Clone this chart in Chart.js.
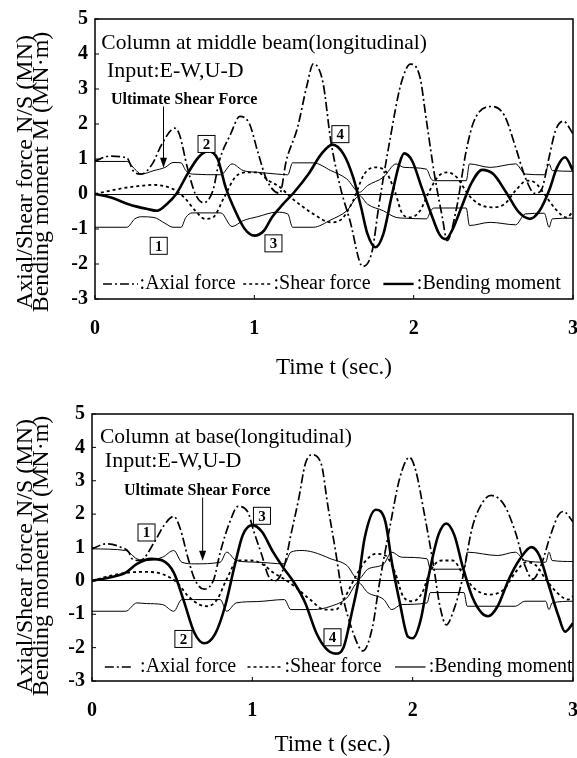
<!DOCTYPE html>
<html lang="en">
<head>
  <meta charset="UTF-8" />
  <title>Column forces</title>
  <style>
    body { margin: 0; background: #fff; }
    .wrap { position: relative; width: 577px; height: 758px; }
    canvas { position: absolute; left: 0; }
    #topChart { top: 0; }
    #baseChart { top: 395px; }
  </style>
</head>
<body>
  <div class="wrap">
    <canvas id="topChart" width="577" height="395"></canvas>
    <canvas id="baseChart" width="577" height="363"></canvas>
  </div>

  <script src="https://cdn.jsdelivr.net/npm/chart.js"></script>
<script>
  // axis ticks
  const xTicks = [0, 1, 2, 3];
  const yTicks = [-3, -2, -1, 0, 1, 2, 3, 4, 5];

  // column at middle beam
  const topAxialT = [0, 0.09, 0.2, 0.24, 0.29, 0.36, 0.42, 0.5, 0.53, 0.58, 0.63, 0.68, 0.74, 0.78, 0.85, 0.91, 0.97, 1.02, 1.08, 1.16, 1.2, 1.27, 1.33, 1.37, 1.43, 1.48, 1.54, 1.6, 1.68, 1.74, 1.78, 1.85, 1.92, 1.98, 2.04, 2.08, 2.13, 2.18, 2.21, 2.27, 2.33, 2.38, 2.49, 2.57, 2.64, 2.7, 2.76, 2.8, 2.85, 2.89, 2.94, 3.0];
  const topAxialV = [0.94, 1.08, 1.03, 0.66, 0.57, 0.86, 1.43, 1.88, 1.7, 0.75, 0.0, -0.25, 0.1, 0.94, 1.7, 2.22, 2.0, 1.23, 0.38, 0.02, 0.94, 1.88, 3.1, 3.72, 3.2, 1.52, 0.19, -0.76, -2.07, -1.62, -0.38, 1.52, 3.14, 3.71, 3.33, 2.1, 0.57, -0.67, -1.33, -0.38, 1.24, 2.1, 2.5, 2.24, 1.33, 0.48, 0.02, 0.1, 1.05, 1.81, 2.08, 1.72];
  const topShearT = [0, 0.1, 0.21, 0.37, 0.49, 0.56, 0.63, 0.69, 0.74, 0.81, 0.88, 0.95, 1.02, 1.09, 1.16, 1.23, 1.3, 1.37, 1.48, 1.55, 1.62, 1.69, 1.76, 1.82, 1.88, 1.93, 1.98, 2.04, 2.09, 2.15, 2.21, 2.27, 2.34, 2.41, 2.49, 2.57, 2.64, 2.71, 2.76, 2.82, 2.89, 2.96, 3.0];
  const topShearV = [0, 0.1, 0.19, 0.26, 0.14, -0.1, -0.48, -0.71, -0.67, -0.1, 0.48, 0.62, 0.62, 0.38, 0.2, -0.1, -0.35, -0.57, -0.81, -0.71, -0.19, 0.57, 0.76, 0.67, 0.1, -0.57, -0.67, -0.48, 0, 0.48, 0.62, 0.48, 0, -0.29, -0.38, -0.29, 0.1, 0.38, 0.33, 0, -0.43, -0.67, -0.5];
  const topBendT = [0, 0.1, 0.21, 0.33, 0.39, 0.45, 0.51, 0.58, 0.65, 0.71, 0.77, 0.82, 0.88, 0.94, 1.0, 1.06, 1.11, 1.18, 1.25, 1.34, 1.42, 1.49, 1.56, 1.62, 1.67, 1.71, 1.76, 1.81, 1.86, 1.91, 1.94, 1.99, 2.05, 2.11, 2.16, 2.2, 2.24, 2.3, 2.36, 2.43, 2.5, 2.58, 2.66, 2.73, 2.79, 2.85, 2.9, 2.95, 3.0];
  const topBendV = [0, -0.1, -0.29, -0.43, -0.48, -0.29, 0, 0.57, 1.05, 1.22, 1.0, 0.19, -0.48, -1.0, -1.19, -1.05, -0.67, -0.29, 0.05, 0.57, 1.14, 1.41, 1.14, 0.48, -0.38, -1.14, -1.52, -1.14, -0.1, 0.86, 1.16, 0.95, 0.19, -0.57, -1.14, -1.29, -1.05, -0.38, 0.29, 0.69, 0.57, 0.05, -0.52, -0.71, -0.48, 0.1, 0.76, 1.05, 0.67];
  const topEnvT = [0, 0.2, 0.25, 0.29, 0.37, 0.44, 0.49, 0.54, 0.57, 0.61, 0.79, 0.86, 0.93, 1.02, 1.14, 1.21, 1.24, 1.37, 1.48, 1.58, 1.66, 1.71, 1.81, 1.89, 1.94, 2.08, 2.11, 2.13, 2.33, 2.35, 2.48, 2.64, 2.7, 2.82, 2.85, 2.87, 3.0];
  const topUpperV = [0.93, 0.93, 0.71, 0.57, 0.67, 0.76, 0.9, 0.89, 0.67, 0.57, 0.55, 0.86, 0.67, 0.62, 0.57, 0.55, 0.89, 0.89, 0.67, 0.43, 0.05, 0.24, 0.48, 0.86, 0.76, 0.71, 0.43, 0.38, 0.38, 0.86, 0.76, 0.86, 0.57, 0.55, 0.86, 0.67, 0.65];
  const topLowerV = [-0.95, -0.95, -0.71, -0.65, -0.67, -0.84, -0.95, -0.95, -0.67, -0.54, -0.54, -0.93, -0.76, -0.65, -0.52, -0.57, -0.95, -0.95, -0.74, -0.48, -0.05, -0.29, -0.48, -0.67, -0.69, -0.71, -0.46, -0.4, -0.4, -0.9, -0.81, -0.88, -0.57, -0.55, -0.95, -0.71, -0.69];

  // column at base
  const baseAxialT = [0, 0.09, 0.18, 0.23, 0.25, 0.3, 0.39, 0.45, 0.51, 0.55, 0.6, 0.64, 0.7, 0.76, 0.8, 0.86, 0.91, 0.97, 1.01, 1.06, 1.1, 1.14, 1.2, 1.24, 1.29, 1.33, 1.37, 1.43, 1.47, 1.52, 1.56, 1.63, 1.69, 1.75, 1.79, 1.86, 1.92, 1.98, 2.02, 2.07, 2.13, 2.17, 2.21, 2.25, 2.31, 2.37, 2.44, 2.49, 2.57, 2.64, 2.7, 2.75, 2.8, 2.86, 2.91, 2.94, 3.0];
  const baseAxialV = [0.96, 1.11, 1.01, 0.86, 0.66, 0.61, 1.17, 1.67, 1.93, 1.57, 0.66, 0.05, -0.25, 0.05, 0.86, 1.77, 2.23, 2.08, 1.47, 0.76, 0.15, 0.0, 0.46, 1.37, 2.48, 3.5, 3.78, 3.5, 2.28, 0.86, -0.35, -1.57, -2.1, -1.37, -0.15, 1.67, 3.09, 3.7, 3.29, 2.08, 0.46, -0.76, -1.32, -0.96, 0.05, 1.57, 2.38, 2.56, 2.28, 1.47, 0.46, 0.05, 0.46, 1.37, 1.98, 2.08, 1.77];
  const baseShearT = [0, 0.11, 0.23, 0.34, 0.44, 0.53, 0.6, 0.67, 0.72, 0.78, 0.84, 0.91, 0.99, 1.06, 1.13, 1.2, 1.26, 1.36, 1.45, 1.52, 1.57, 1.63, 1.7, 1.77, 1.83, 1.89, 1.94, 2.0, 2.06, 2.11, 2.18, 2.25, 2.32, 2.39, 2.48, 2.57, 2.64, 2.71, 2.77, 2.83, 2.9, 2.97, 3.0];
  const baseShearV = [0, 0.15, 0.25, 0.27, 0.2, -0.05, -0.46, -0.71, -0.76, -0.56, 0.05, 0.61, 0.61, 0.51, 0.25, 0.05, -0.15, -0.56, -0.86, -0.86, -0.56, 0, 0.56, 0.81, 0.76, 0.25, -0.46, -0.61, -0.35, 0.3, 0.61, 0.61, 0.15, -0.25, -0.41, -0.25, 0.25, 0.56, 0.46, 0.05, -0.35, -0.56, -0.46];
  const baseBendT = [0, 0.11, 0.21, 0.28, 0.37, 0.44, 0.51, 0.57, 0.64, 0.7, 0.77, 0.83, 0.89, 0.94, 1.0, 1.06, 1.13, 1.2, 1.26, 1.33, 1.4, 1.46, 1.52, 1.57, 1.62, 1.66, 1.7, 1.77, 1.83, 1.87, 1.92, 1.97, 2.0, 2.05, 2.1, 2.16, 2.21, 2.26, 2.31, 2.37, 2.43, 2.47, 2.53, 2.6, 2.67, 2.74, 2.79, 2.85, 2.91, 2.95, 3.0];
  const baseBendV = [0, 0.1, 0.25, 0.51, 0.66, 0.61, 0.25, -0.56, -1.57, -1.87, -1.57, -0.76, 0.46, 1.37, 1.67, 1.47, 0.86, 0.35, -0.05, -0.66, -1.57, -2.03, -2.18, -1.98, -0.96, -0.05, 1.27, 2.13, 1.77, 0.56, -0.66, -1.67, -1.72, -1.17, 0.15, 1.37, 1.72, 1.37, 0.46, -0.46, -0.96, -1.06, -0.76, 0.05, 0.66, 1.01, 0.76, -0.15, -1.06, -1.52, -1.27];
  const baseEnvT = [0, 0.21, 0.28, 0.34, 0.44, 0.51, 0.56, 0.64, 0.8, 0.84, 0.9, 1.03, 1.2, 1.24, 1.31, 1.38, 1.49, 1.59, 1.66, 1.72, 1.82, 1.87, 1.93, 2.09, 2.11, 2.32, 2.34, 2.53, 2.64, 2.7, 2.83, 2.85, 2.87, 3.0];
  const baseUpperV = [0.96, 0.91, 0.66, 0.61, 0.71, 0.91, 0.56, 0.51, 0.56, 0.86, 0.61, 0.56, 0.51, 0.86, 0.91, 0.86, 0.66, 0.46, 0.05, 0.35, 0.51, 0.86, 0.71, 0.66, 0.35, 0.35, 0.86, 0.76, 0.86, 0.61, 0.56, 0.86, 0.61, 0.58];
  const baseLowerV = [-0.91, -0.91, -0.66, -0.68, -0.71, -0.91, -0.56, -0.56, -0.56, -0.91, -0.66, -0.62, -0.56, -0.86, -0.86, -0.86, -0.76, -0.51, -0.05, -0.35, -0.56, -0.86, -0.71, -0.66, -0.35, -0.35, -0.76, -0.76, -0.76, -0.61, -0.61, -0.86, -0.66, -0.61];

  const SERIF = '"Liberation Serif", "Times New Roman", serif';
  const AXIAL_DASH = [9, 3, 2, 3];
  const SHEAR_DASH = [3, 3];

  function pts(ts, vs) {
    return ts.map((t, i) => ({ x: t, y: vs[i] }));
  }

  function lineSet(label, data, width, dash) {
    return {
      label: label,
      data: data,
      borderColor: '#000',
      borderWidth: width,
      borderDash: dash,
      pointRadius: 0,
      fill: false,
      cubicInterpolationMode: 'monotone'
    };
  }

  // extra text, frame and markers drawn on top of the plot
  const notes = {
    topChart: {
      title: 'Column at middle beam(longitudinal)', titleAt: [0.04, 4.3],
      input: 'Input:E-W,U-D', inputAt: [0.075, 3.52],
      ultAt: [0.1, 2.7], arrow: [0.43, 2.5, 0.75],
      legendV: -2.57,
      legend: [[0.05, 0.27, 0.28, ':Axial force', 1.6, AXIAL_DASH],
               [0.93, 1.1, 1.12, ':Shear force', 1.6, SHEAR_DASH],
               [1.81, 2.0, 2.02, ':Bending moment', 2.4, []]],
      boxes: [[0.4, -1.48, '1'], [0.7, 1.43, '2'], [1.12, -1.41, '3'], [1.54, 1.71, '4']],
      yTitleY: 172, xTitleY: 368
    },
    baseChart: {
      title: 'Column at base(longitudinal)', titleAt: [0.05, 4.3],
      input: 'Input:E-W,U-D', inputAt: [0.08, 3.6],
      ultAt: [0.2, 2.7], arrow: [0.69, 2.5, 0.6],
      legendV: -2.58,
      legend: [[0.08, 0.25, 0.3, ':Axial force', 1.6, AXIAL_DASH],
               [0.97, 1.18, 1.2, ':Shear force', 1.6, SHEAR_DASH],
               [1.89, 2.08, 2.1, ':Bending moment', 1.2, []]],
      boxes: [[0.34, 1.45, '1'], [0.57, -1.74, '2'], [1.06, 1.95, '3'], [1.5, -1.69, '4']],
      yTitleY: 161, xTitleY: 350
    }
  };

  const notesPlugin = {
    id: 'notes',
    afterDraw(chart) {
      const n = notes[chart.canvas.id];
      const ctx = chart.ctx;
      const a = chart.chartArea;
      const px = t => chart.scales.x.getPixelForValue(t);
      const py = v => chart.scales.y.getPixelForValue(v);
      ctx.save();
      ctx.strokeStyle = '#000';
      ctx.fillStyle = '#000';

      // frame + small inward ticks
      ctx.setLineDash([]);
      ctx.lineWidth = 1.5;
      ctx.strokeRect(a.left, a.top, a.right - a.left, a.bottom - a.top);
      ctx.lineWidth = 1;
      ctx.beginPath();
      yTicks.forEach(v => {
        ctx.moveTo(a.left, py(v)); ctx.lineTo(a.left + 4, py(v));
      });
      xTicks.forEach(t => {
        ctx.moveTo(px(t), a.bottom); ctx.lineTo(px(t), a.bottom - 4);
      });
      ctx.stroke();

      // texts inside the plot
      ctx.textBaseline = 'middle';
      ctx.textAlign = 'left';
      ctx.font = '21.5px ' + SERIF;
      ctx.fillText(n.title, px(n.titleAt[0]), py(n.titleAt[1]));
      ctx.font = '22px ' + SERIF;
      ctx.fillText(n.input, px(n.inputAt[0]), py(n.inputAt[1]));
      ctx.font = 'bold 16px ' + SERIF;
      ctx.fillText('Ultimate Shear Force', px(n.ultAt[0]), py(n.ultAt[1]));

      // arrow to the ultimate shear force line
      const ax = px(n.arrow[0]), ay0 = py(n.arrow[1]), ay1 = py(n.arrow[2]);
      ctx.beginPath();
      ctx.moveTo(ax, ay0); ctx.lineTo(ax, ay1 - 6);
      ctx.stroke();
      ctx.beginPath();
      ctx.moveTo(ax, ay1); ctx.lineTo(ax - 3.5, ay1 - 10); ctx.lineTo(ax + 3.5, ay1 - 10);
      ctx.closePath();
      ctx.fill();

      // legend row
      ctx.font = '20px ' + SERIF;
      n.legend.forEach(([t0, t1, tt, text, w, dash]) => {
        const y = py(n.legendV);
        ctx.lineWidth = w;
        ctx.setLineDash(dash);
        ctx.beginPath();
        ctx.moveTo(px(t0), y); ctx.lineTo(px(t1), y);
        ctx.stroke();
        ctx.setLineDash([]);
        ctx.fillText(text, px(tt), y);
      });

      // numbered boxes
      ctx.lineWidth = 1;
      ctx.textAlign = 'center';
      ctx.font = 'bold 15px ' + SERIF;
      n.boxes.forEach(([t, v, label]) => {
        const x = px(t), y = py(v);
        ctx.fillStyle = '#fff';
        ctx.fillRect(x - 8.5, y - 8.5, 17, 17);
        ctx.fillStyle = '#000';
        ctx.strokeRect(x - 8.5, y - 8.5, 17, 17);
        ctx.fillText(label, x, y + 1);
      });

      // axis titles
      ctx.font = '23px ' + SERIF;
      ctx.fillText('Time t (sec.)', (a.left + a.right) / 2, n.xTitleY);
      ctx.font = '24px ' + SERIF;
      ctx.translate(0, n.yTitleY);
      ctx.rotate(-Math.PI / 2);
      ctx.fillText('Axial/Shear force N/S (MN)', 0, 26);
      ctx.fillText('Bending moment M (MN\u00b7m)', 0, 42);
      ctx.restore();
    }
  };

  function makeChart(id, axial, shear, bend, upper, lower, axisH, yW, padTop) {
    const ctx = document.getElementById(id).getContext('2d');
    return new Chart(ctx, {
      type: 'line',
      data: {
        datasets: [
          lineSet('Ultimate shear force +', upper, 1, []),
          lineSet('Ultimate shear force -', lower, 1, []),
          lineSet('Axial force', axial, 1.7, AXIAL_DASH),
          lineSet('Shear force', shear, 1.8, SHEAR_DASH),
          lineSet('Bending moment', bend, 2.6, [])
        ]
      },
      options: {
        responsive: false,
        animation: false,
        layout: { padding: { top: padTop, right: 4, left: 0, bottom: 0 } },
        plugins: { legend: { display: false }, tooltip: { enabled: false } },
        scales: {
          x: {
            type: 'linear', min: 0, max: 3,
            afterBuildTicks: s => { s.ticks = xTicks.map(v => ({ value: v })); },
            afterFit: s => { s.height = axisH; s.paddingLeft = 0; s.paddingRight = 0; },
            ticks: { color: '#000', padding: 18, maxRotation: 0, font: { family: SERIF, size: 20, weight: 'bold' } },
            grid: { display: false, drawTicks: false },
            border: { display: false }
          },
          y: {
            min: -3, max: 5,
            afterBuildTicks: s => { s.ticks = yTicks.map(v => ({ value: v })); },
            afterFit: s => { s.width = yW; },
            ticks: { color: '#000', padding: 7, font: { family: SERIF, size: 20, weight: 'bold' } },
            grid: {
              drawTicks: false,
              lineWidth: 1,
              color: c => (c.tick && c.tick.value === 0 ? '#000' : 'rgba(0,0,0,0)')
            },
            border: { display: false }
          }
        }
      },
      plugins: [notesPlugin]
    });
  }

  makeChart('topChart',
    pts(topAxialT, topAxialV), pts(topShearT, topShearV), pts(topBendT, topBendV),
    pts(topEnvT, topUpperV), pts(topEnvT, topLowerV), 96, 95, 17);

  makeChart('baseChart',
    pts(baseAxialT, baseAxialV), pts(baseShearT, baseShearV), pts(baseBendT, baseBendV),
    pts(baseEnvT, baseUpperV), pts(baseEnvT, baseLowerV), 77, 92, 18);
</script>
</body>
</html>
